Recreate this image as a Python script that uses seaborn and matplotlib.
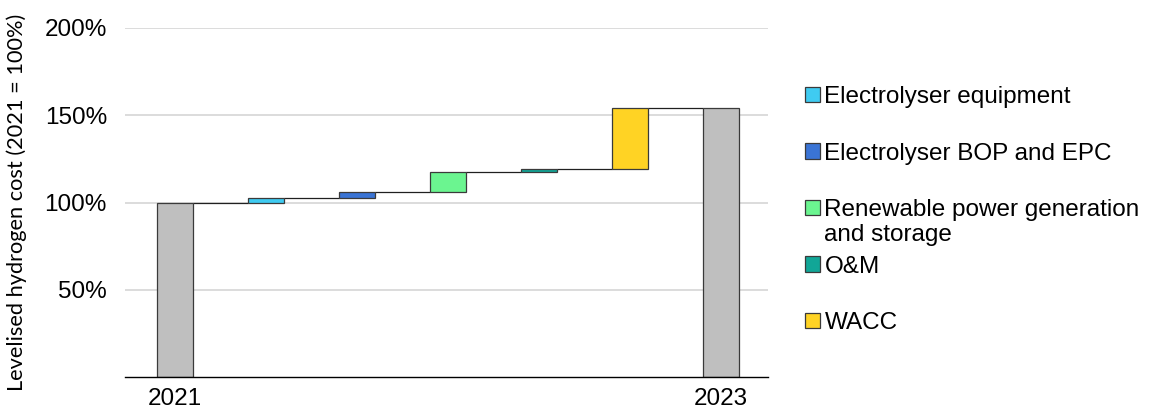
import matplotlib
matplotlib.use("Agg")
import matplotlib.pyplot as plt
import seaborn as sns
import numpy as np
import pandas as pd
from matplotlib.patches import Patch

# ---- data ----
categories = ["2021", "Electrolyser equipment", "Electrolyser BOP and EPC",
              "Renewable power generation and storage", "O&M", "WACC", "2023"]
start_value = 100.0
changes = [2.3, 4.0, 11.0, 1.8, 35.3]   # % points added by each driver
tick_labels = ["2021", "", "", "", "", "", "2023"]
legend_labels = ["Electrolyser equipment", "Electrolyser BOP and EPC",
                 "Renewable power generation", "O&M", "WACC"]
legend_extra = "and storage"
y_ticks = [50, 100, 150, 200]

# ---- derived waterfall geometry (from data) ----
cum = np.cumsum([start_value] + changes)
end_value = cum[-1]
bottoms = [0.0] + list(cum[:-1]) + [0.0]
heights = [start_value] + changes + [end_value]
levels = list(cum)  # connector levels after each bar

df = pd.DataFrame({"category": categories, "height": heights})

# ---- style ----
colors = ["#BFBFBF", "#3FCBF1", "#3A74D5", "#6BF590", "#11A697", "#FFD324", "#BFBFBF"]
edge = "#3A3A3A"
tick_font = "Liberation Sans"

sns.set_theme(style="white")
plt.rcParams["font.family"] = ["Liberation Sans", "DejaVu Sans"]
plt.rcParams["text.color"] = "black"
plt.rcParams["xtick.color"] = "black"
plt.rcParams["ytick.color"] = "black"
plt.rcParams["axes.labelcolor"] = "black"

fig = plt.figure(figsize=(11.49, 4.09), dpi=100)
ax = fig.add_axes([125 / 1149, 1 - 377 / 409, (768 - 125) / 1149, (377 - 28) / 409])

sns.barplot(data=df, x="category", y="height", order=categories, ax=ax,
            width=0.4, bottom=bottoms, color="#BFBFBF",
            edgecolor=edge, linewidth=0.9, errorbar=None)
for p, c in zip(ax.patches, colors):
    p.set_facecolor(c)
    p.set_zorder(3)

# connectors
for i, lv in enumerate(levels):
    ax.hlines(lv, i + 0.2, i + 0.8, color="#202020", linewidth=0.9, zorder=2)

ax.set_xlim(-0.55, 6.52)
ax.set_ylim(0, 200)
ax.set_yticks(y_ticks)
ax.set_yticklabels([f"{v}%" for v in y_ticks], fontsize=17.5, family=tick_font)
ax.set_xticks(range(len(categories)))
ax.set_xticklabels(tick_labels, fontsize=17.5, family=tick_font)
ax.tick_params(axis="y", length=0, pad=13, colors="black")
ax.tick_params(axis="x", length=0, pad=8, colors="black")
ax.grid(axis="y", color="#D9D9D9", linewidth=1.3, zorder=0)
ax.set_axisbelow(True)
for s in ["top", "right", "left"]:
    ax.spines[s].set_visible(False)
ax.spines["bottom"].set_color("#000000")
ax.spines["bottom"].set_linewidth(1.0)
ax.spines["bottom"].set_zorder(4)
ax.set_xlabel("")
ax.set_ylabel("Levelised hydrogen cost (2021 = 100%)", fontsize=15.7,
              family=["Lato", "DejaVu Sans"], color="black")
ax.yaxis.set_label_coords(-0.152, 0.5)

handles = [Patch(facecolor=c, edgecolor=edge, linewidth=0.9) for c in colors[1:6]]
leg = fig.legend(handles, legend_labels, loc="upper left",
                 bbox_to_anchor=(805 / 1149, 1 - 86 / 409), frameon=False,
                 prop={"family": tick_font, "size": 17.5},
                 handlelength=0.6, handleheight=0.6, handletextpad=0.2,
                 labelspacing=1.42, borderpad=0, borderaxespad=0)
for t in leg.get_texts():
    t.set_color("black")

fig.canvas.draw()
t = leg.get_texts()[2]
bb = t.get_window_extent()
x0, y0 = fig.transFigure.inverted().transform((bb.x0, bb.y0))
fig.text(x0, y0 - 3 / 409, legend_extra, ha="left", va="top",
         fontsize=17.5, family=tick_font, color="black")

fig.savefig("out.png", dpi=100)
